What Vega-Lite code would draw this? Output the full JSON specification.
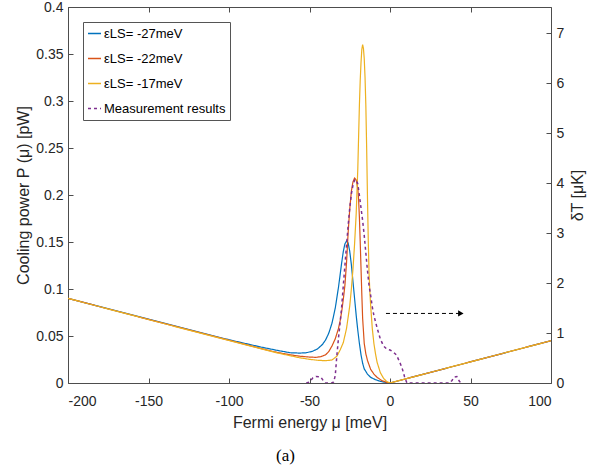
{
  "$schema": "https://vega.github.io/schema/vega-lite/v6.json",
  "width": 483,
  "height": 376,
  "autosize": {"type": "none"},
  "padding": {"left": 68, "top": 7, "right": 50, "bottom": 87},
  "background": "white",
  "config": {
    "view": {"stroke": null},
    "font": "Liberation Sans",
    "axis": {
      "domainColor": "#4d4d4d",
      "tickColor": "#4d4d4d",
      "labelColor": "#262626",
      "titleColor": "#262626",
      "labelFont": "Liberation Sans",
      "titleFont": "Liberation Sans",
      "labelFontSize": 14,
      "titleFontSize": 16,
      "titleFontWeight": "normal",
      "grid": false,
      "tickSize": -5,
      "zindex": 1
    }
  },
  "title": {
    "text": "(a)",
    "orient": "bottom",
    "anchor": "middle",
    "font": "Liberation Serif",
    "fontSize": 17,
    "fontWeight": "normal",
    "color": "#000000",
    "offset": 18,
    "dx": -24
  },
  "datasets": {
    "theory": [
      {"mu": -200, "P": 0.090, "s": "εLS= -27meV"},
      {"mu": -150, "P": 0.0680, "s": "εLS= -27meV"},
      {"mu": -100, "P": 0.0460, "s": "εLS= -27meV"},
      {"mu": -80, "P": 0.0382, "s": "εLS= -27meV"},
      {"mu": -70, "P": 0.0347, "s": "εLS= -27meV"},
      {"mu": -62, "P": 0.0322, "s": "εLS= -27meV"},
      {"mu": -56, "P": 0.0318, "s": "εLS= -27meV"},
      {"mu": -52, "P": 0.0322, "s": "εLS= -27meV"},
      {"mu": -48, "P": 0.0338, "s": "εLS= -27meV"},
      {"mu": -45, "P": 0.0363, "s": "εLS= -27meV"},
      {"mu": -42, "P": 0.0409, "s": "εLS= -27meV"},
      {"mu": -40, "P": 0.0458, "s": "εLS= -27meV"},
      {"mu": -38, "P": 0.0531, "s": "εLS= -27meV"},
      {"mu": -36, "P": 0.0638, "s": "εLS= -27meV"},
      {"mu": -34, "P": 0.0797, "s": "εLS= -27meV"},
      {"mu": -32, "P": 0.1018, "s": "εLS= -27meV"},
      {"mu": -30, "P": 0.128, "s": "εLS= -27meV"},
      {"mu": -29, "P": 0.140, "s": "εLS= -27meV"},
      {"mu": -28, "P": 0.148, "s": "εLS= -27meV"},
      {"mu": -27, "P": 0.151, "s": "εLS= -27meV"},
      {"mu": -26, "P": 0.149, "s": "εLS= -27meV"},
      {"mu": -25, "P": 0.140, "s": "εLS= -27meV"},
      {"mu": -24, "P": 0.126, "s": "εLS= -27meV"},
      {"mu": -23, "P": 0.108, "s": "εLS= -27meV"},
      {"mu": -22, "P": 0.090, "s": "εLS= -27meV"},
      {"mu": -21, "P": 0.072, "s": "εLS= -27meV"},
      {"mu": -20, "P": 0.056, "s": "εLS= -27meV"},
      {"mu": -19, "P": 0.042, "s": "εLS= -27meV"},
      {"mu": -18, "P": 0.030, "s": "εLS= -27meV"},
      {"mu": -17, "P": 0.021, "s": "εLS= -27meV"},
      {"mu": -16, "P": 0.015, "s": "εLS= -27meV"},
      {"mu": -14, "P": 0.0095, "s": "εLS= -27meV"},
      {"mu": -12, "P": 0.006, "s": "εLS= -27meV"},
      {"mu": -9, "P": 0.0035, "s": "εLS= -27meV"},
      {"mu": -6, "P": 0.0018, "s": "εLS= -27meV"},
      {"mu": -3, "P": 0.0007, "s": "εLS= -27meV"},
      {"mu": 0, "P": 0, "s": "εLS= -27meV"},
      {"mu": 100, "P": 0.045, "s": "εLS= -27meV"},

      {"mu": -200, "P": 0.090, "s": "εLS= -22meV"},
      {"mu": -150, "P": 0.0677, "s": "εLS= -22meV"},
      {"mu": -100, "P": 0.0455, "s": "εLS= -22meV"},
      {"mu": -80, "P": 0.0366, "s": "εLS= -22meV"},
      {"mu": -70, "P": 0.0325, "s": "εLS= -22meV"},
      {"mu": -62, "P": 0.0300, "s": "εLS= -22meV"},
      {"mu": -56, "P": 0.0285, "s": "εLS= -22meV"},
      {"mu": -50, "P": 0.0276, "s": "εLS= -22meV"},
      {"mu": -46, "P": 0.0273, "s": "εLS= -22meV"},
      {"mu": -43, "P": 0.0280, "s": "εLS= -22meV"},
      {"mu": -40, "P": 0.0300, "s": "εLS= -22meV"},
      {"mu": -38, "P": 0.0335, "s": "εLS= -22meV"},
      {"mu": -36, "P": 0.0395, "s": "εLS= -22meV"},
      {"mu": -34, "P": 0.047, "s": "εLS= -22meV"},
      {"mu": -32, "P": 0.058, "s": "εLS= -22meV"},
      {"mu": -31, "P": 0.066, "s": "εLS= -22meV"},
      {"mu": -30, "P": 0.076, "s": "εLS= -22meV"},
      {"mu": -29, "P": 0.089, "s": "εLS= -22meV"},
      {"mu": -28, "P": 0.104, "s": "εLS= -22meV"},
      {"mu": -27, "P": 0.128, "s": "εLS= -22meV"},
      {"mu": -26, "P": 0.160, "s": "εLS= -22meV"},
      {"mu": -25, "P": 0.185, "s": "εLS= -22meV"},
      {"mu": -24, "P": 0.204, "s": "εLS= -22meV"},
      {"mu": -23, "P": 0.214, "s": "εLS= -22meV"},
      {"mu": -22, "P": 0.218, "s": "εLS= -22meV"},
      {"mu": -21, "P": 0.216, "s": "εLS= -22meV"},
      {"mu": -20, "P": 0.207, "s": "εLS= -22meV"},
      {"mu": -19.5, "P": 0.195, "s": "εLS= -22meV"},
      {"mu": -19, "P": 0.176, "s": "εLS= -22meV"},
      {"mu": -18.5, "P": 0.150, "s": "εLS= -22meV"},
      {"mu": -18, "P": 0.122, "s": "εLS= -22meV"},
      {"mu": -17.5, "P": 0.094, "s": "εLS= -22meV"},
      {"mu": -17, "P": 0.069, "s": "εLS= -22meV"},
      {"mu": -16, "P": 0.042, "s": "εLS= -22meV"},
      {"mu": -15, "P": 0.031, "s": "εLS= -22meV"},
      {"mu": -14, "P": 0.024, "s": "εLS= -22meV"},
      {"mu": -12, "P": 0.0145, "s": "εLS= -22meV"},
      {"mu": -10, "P": 0.0095, "s": "εLS= -22meV"},
      {"mu": -8, "P": 0.006, "s": "εLS= -22meV"},
      {"mu": -5, "P": 0.0025, "s": "εLS= -22meV"},
      {"mu": -2.5, "P": 0.001, "s": "εLS= -22meV"},
      {"mu": 0, "P": 0, "s": "εLS= -22meV"},
      {"mu": 100, "P": 0.045, "s": "εLS= -22meV"},

      {"mu": -200, "P": 0.090, "s": "εLS= -17meV"},
      {"mu": -150, "P": 0.0675, "s": "εLS= -17meV"},
      {"mu": -100, "P": 0.0452, "s": "εLS= -17meV"},
      {"mu": -80, "P": 0.0363, "s": "εLS= -17meV"},
      {"mu": -70, "P": 0.0320, "s": "εLS= -17meV"},
      {"mu": -62, "P": 0.0290, "s": "εLS= -17meV"},
      {"mu": -56, "P": 0.0268, "s": "εLS= -17meV"},
      {"mu": -50, "P": 0.0252, "s": "εLS= -17meV"},
      {"mu": -45, "P": 0.0242, "s": "εLS= -17meV"},
      {"mu": -40, "P": 0.0237, "s": "εLS= -17meV"},
      {"mu": -36, "P": 0.0245, "s": "εLS= -17meV"},
      {"mu": -33, "P": 0.0285, "s": "εLS= -17meV"},
      {"mu": -31, "P": 0.035, "s": "εLS= -17meV"},
      {"mu": -29, "P": 0.043, "s": "εLS= -17meV"},
      {"mu": -27, "P": 0.058, "s": "εLS= -17meV"},
      {"mu": -25, "P": 0.082, "s": "εLS= -17meV"},
      {"mu": -24, "P": 0.100, "s": "εLS= -17meV"},
      {"mu": -23, "P": 0.121, "s": "εLS= -17meV"},
      {"mu": -22, "P": 0.148, "s": "εLS= -17meV"},
      {"mu": -21, "P": 0.180, "s": "εLS= -17meV"},
      {"mu": -20, "P": 0.228, "s": "εLS= -17meV"},
      {"mu": -19.5, "P": 0.262, "s": "εLS= -17meV"},
      {"mu": -19, "P": 0.296, "s": "εLS= -17meV"},
      {"mu": -18.5, "P": 0.322, "s": "εLS= -17meV"},
      {"mu": -18, "P": 0.341, "s": "εLS= -17meV"},
      {"mu": -17.5, "P": 0.355, "s": "εLS= -17meV"},
      {"mu": -17, "P": 0.360, "s": "εLS= -17meV"},
      {"mu": -16.5, "P": 0.356, "s": "εLS= -17meV"},
      {"mu": -16, "P": 0.345, "s": "εLS= -17meV"},
      {"mu": -15.5, "P": 0.325, "s": "εLS= -17meV"},
      {"mu": -15, "P": 0.295, "s": "εLS= -17meV"},
      {"mu": -14.5, "P": 0.250, "s": "εLS= -17meV"},
      {"mu": -14, "P": 0.198, "s": "εLS= -17meV"},
      {"mu": -13.5, "P": 0.152, "s": "εLS= -17meV"},
      {"mu": -13, "P": 0.116, "s": "εLS= -17meV"},
      {"mu": -12.5, "P": 0.097, "s": "εLS= -17meV"},
      {"mu": -12, "P": 0.082, "s": "εLS= -17meV"},
      {"mu": -11, "P": 0.058, "s": "εLS= -17meV"},
      {"mu": -10, "P": 0.042, "s": "εLS= -17meV"},
      {"mu": -9, "P": 0.031, "s": "εLS= -17meV"},
      {"mu": -8, "P": 0.022, "s": "εLS= -17meV"},
      {"mu": -6, "P": 0.011, "s": "εLS= -17meV"},
      {"mu": -4, "P": 0.005, "s": "εLS= -17meV"},
      {"mu": -2, "P": 0.0015, "s": "εLS= -17meV"},
      {"mu": 0, "P": 0, "s": "εLS= -17meV"},
      {"mu": 100, "P": 0.045, "s": "εLS= -17meV"}
    ],
    "meas": [
      {"mu": -52, "dT": 0, "s": "Measurement results"},
      {"mu": -50, "dT": 0.02, "s": "Measurement results"},
      {"mu": -48, "dT": 0.1, "s": "Measurement results"},
      {"mu": -46, "dT": 0.13, "s": "Measurement results"},
      {"mu": -43, "dT": 0.12, "s": "Measurement results"},
      {"mu": -41.5, "dT": 0.05, "s": "Measurement results"},
      {"mu": -40, "dT": 0, "s": "Measurement results"},
      {"mu": -36, "dT": 0, "s": "Measurement results"},
      {"mu": -35, "dT": 0.02, "s": "Measurement results"},
      {"mu": -34, "dT": 0.15, "s": "Measurement results"},
      {"mu": -33, "dT": 0.55, "s": "Measurement results"},
      {"mu": -32, "dT": 0.9, "s": "Measurement results"},
      {"mu": -31, "dT": 1.2, "s": "Measurement results"},
      {"mu": -30, "dT": 1.53, "s": "Measurement results"},
      {"mu": -29, "dT": 1.95, "s": "Measurement results"},
      {"mu": -28, "dT": 2.35, "s": "Measurement results"},
      {"mu": -27, "dT": 2.75, "s": "Measurement results"},
      {"mu": -26, "dT": 3.15, "s": "Measurement results"},
      {"mu": -25, "dT": 3.5, "s": "Measurement results"},
      {"mu": -24, "dT": 3.78, "s": "Measurement results"},
      {"mu": -23, "dT": 3.96, "s": "Measurement results"},
      {"mu": -22, "dT": 4.06, "s": "Measurement results"},
      {"mu": -21, "dT": 4.07, "s": "Measurement results"},
      {"mu": -20, "dT": 3.98, "s": "Measurement results"},
      {"mu": -19, "dT": 3.75, "s": "Measurement results"},
      {"mu": -18, "dT": 3.5, "s": "Measurement results"},
      {"mu": -17, "dT": 3.25, "s": "Measurement results"},
      {"mu": -16, "dT": 2.95, "s": "Measurement results"},
      {"mu": -15, "dT": 2.6, "s": "Measurement results"},
      {"mu": -14, "dT": 2.25, "s": "Measurement results"},
      {"mu": -13, "dT": 1.95, "s": "Measurement results"},
      {"mu": -12, "dT": 1.75, "s": "Measurement results"},
      {"mu": -11, "dT": 1.52, "s": "Measurement results"},
      {"mu": -10, "dT": 1.35, "s": "Measurement results"},
      {"mu": -8, "dT": 1.1, "s": "Measurement results"},
      {"mu": -6, "dT": 0.88, "s": "Measurement results"},
      {"mu": -4, "dT": 0.74, "s": "Measurement results"},
      {"mu": -2, "dT": 0.68, "s": "Measurement results"},
      {"mu": 0, "dT": 0.66, "s": "Measurement results"},
      {"mu": 2, "dT": 0.62, "s": "Measurement results"},
      {"mu": 4, "dT": 0.56, "s": "Measurement results"},
      {"mu": 6, "dT": 0.42, "s": "Measurement results"},
      {"mu": 7.5, "dT": 0.3, "s": "Measurement results"},
      {"mu": 9, "dT": 0.13, "s": "Measurement results"},
      {"mu": 10.5, "dT": 0, "s": "Measurement results"},
      {"mu": 37, "dT": 0, "s": "Measurement results"},
      {"mu": 38.5, "dT": 0.05, "s": "Measurement results"},
      {"mu": 40, "dT": 0.12, "s": "Measurement results"},
      {"mu": 41.5, "dT": 0.13, "s": "Measurement results"},
      {"mu": 43, "dT": 0.04, "s": "Measurement results"},
      {"mu": 44, "dT": 0, "s": "Measurement results"}
    ],
    "arrow": [
      {"x": -2.5, "x2": 44, "y": 0.074}
    ]
  },
  "layer": [
    {
      "layer": [
        {
          "data": {"name": "theory"},
          "mark": {"type": "line", "strokeWidth": 1.2, "clip": true},
          "encoding": {
            "x": {
              "field": "mu", "type": "quantitative",
              "scale": {"domain": [-200, 100], "nice": false, "zero": false},
              "axis": {
                "orient": "bottom",
                "title": "Fermi energy μ [meV]",
                "values": [-200, -150, -100, -50, 0, 50, 100],
                "labelExpr": "'' + datum.value",
                "labelPadding": 16,
                "titlePadding": 6
              }
            },
            "y": {
              "field": "P", "type": "quantitative",
              "scale": {"domain": [0, 0.4], "nice": false},
              "axis": {
                "orient": "left",
                "title": "Cooling power  P (μ) [pW]",
                "values": [0, 0.05, 0.1, 0.15, 0.2, 0.25, 0.3, 0.35, 0.4],
                "format": ".2~f",
                "labelPadding": 10,
                "titlePadding": 4
              }
            },
            "color": {
              "field": "s", "type": "nominal",
              "scale": {
                "domain": ["εLS= -27meV", "εLS= -22meV", "εLS= -17meV", "Measurement results"],
                "range": ["#0072BD", "#D95319", "#EDB120", "#7E2F8E"]
              },
              "legend": {
                "title": null,
                "orient": "none",
                "legendX": 15,
                "legendY": 15,
                "symbolType": "stroke",
                "symbolSize": 169,
                "symbolStrokeWidth": 1.5,
                "labelFontSize": 13,
                "labelFont": "Liberation Sans",
                "labelColor": "#000000",
                "fillColor": "white",
                "strokeColor": "#555555",
                "padding": 4,
                "rowPadding": 10,
                "labelOffset": 2,
                "cornerRadius": 0
              }
            },
            "strokeDash": {
              "field": "s", "type": "nominal",
              "scale": {
                "domain": ["εLS= -27meV", "εLS= -22meV", "εLS= -17meV", "Measurement results"],
                "range": [[1, 0], [1, 0], [1, 0], [3, 3]]
              },
              "legend": {
                "title": null,
                "orient": "none",
                "legendX": 15,
                "legendY": 15,
                "symbolType": "stroke",
                "symbolSize": 169,
                "symbolStrokeWidth": 1.5,
                "labelFontSize": 13,
                "labelFont": "Liberation Sans",
                "labelColor": "#000000",
                "fillColor": "white",
                "strokeColor": "#555555",
                "padding": 4,
                "rowPadding": 10,
                "labelOffset": 2,
                "cornerRadius": 0
              }
            }
          }
        },
        {
          "data": {"name": "arrow"},
          "mark": {"type": "rule", "color": "#000000", "strokeWidth": 1, "strokeDash": [4, 3]},
          "encoding": {
            "x": {"field": "x", "type": "quantitative"},
            "x2": {"field": "x2"},
            "y": {"field": "y", "type": "quantitative"}
          }
        },
        {
          "data": {"name": "arrow"},
          "mark": {"type": "point", "shape": "triangle-right", "filled": true, "color": "#000000", "size": 40, "opacity": 1},
          "encoding": {
            "x": {"field": "x2", "type": "quantitative"},
            "y": {"field": "y", "type": "quantitative"}
          }
        }
      ]
    },
    {
      "data": {"name": "meas"},
      "mark": {"type": "line", "strokeWidth": 1.5, "clip": true},
      "encoding": {
        "x": {
          "field": "mu", "type": "quantitative",
          "scale": {"domain": [-200, 100], "nice": false, "zero": false},
          "axis": {
            "orient": "top",
            "title": null,
            "labels": false,
            "values": [-200, -150, -100, -50, 0, 50, 100]
          }
        },
        "y": {
          "field": "dT", "type": "quantitative",
          "scale": {"domain": [0, 7.52], "nice": false},
          "axis": {
            "orient": "right",
            "title": "δT [μK]",
            "titleAngle": 270,
            "values": [0, 1, 2, 3, 4, 5, 6, 7],
            "labelPadding": 10,
            "titlePadding": 22
          }
        },
        "color": {
          "field": "s", "type": "nominal",
          "scale": {
            "domain": ["εLS= -27meV", "εLS= -22meV", "εLS= -17meV", "Measurement results"],
            "range": ["#0072BD", "#D95319", "#EDB120", "#7E2F8E"]
          }
        },
        "strokeDash": {
          "field": "s", "type": "nominal",
          "scale": {
            "domain": ["εLS= -27meV", "εLS= -22meV", "εLS= -17meV", "Measurement results"],
            "range": [[1, 0], [1, 0], [1, 0], [3, 3]]
          }
        }
      }
    }
  ],
  "resolve": {"scale": {"y": "independent"}, "axis": {"x": "independent"}}
}
